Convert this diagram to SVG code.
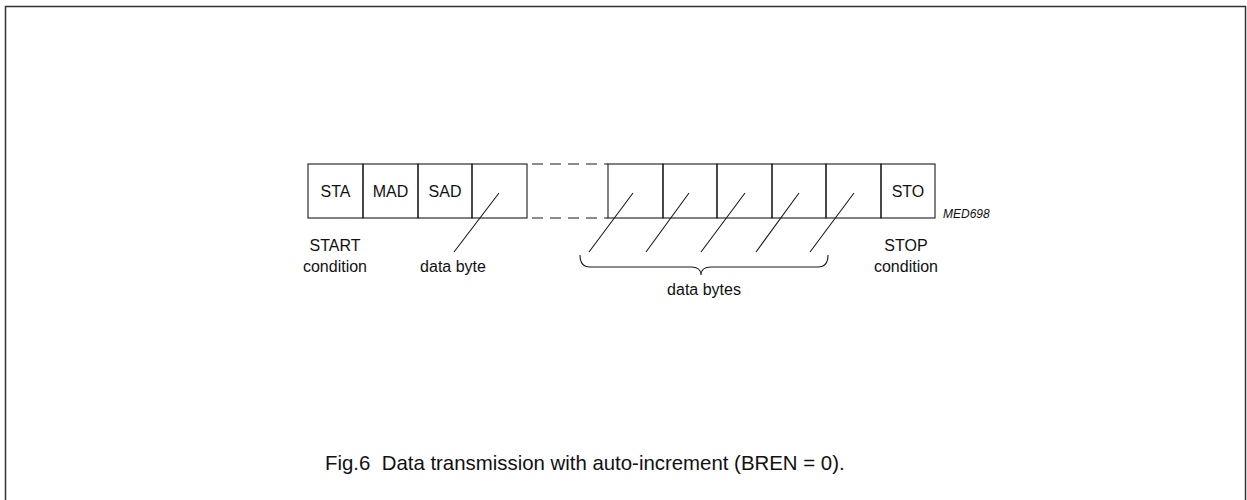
<svg xmlns="http://www.w3.org/2000/svg" width="1247" height="500" viewBox="0 0 1247 500">
<style>
.ln{fill:none;stroke:#1a1a1a;stroke-width:1.1}
.t{font-family:"Liberation Sans",Arial,sans-serif;font-size:16px;fill:#111;text-anchor:middle}
.cap{font-family:"Liberation Sans",Arial,sans-serif;font-size:20.4px;fill:#111;white-space:pre}
.code{font-family:"Liberation Sans",Arial,sans-serif;font-size:12px;font-style:italic;fill:#111}
</style>
<rect x="5.5" y="6.5" width="1240" height="520" fill="#fff" stroke="#333" stroke-width="1.5"/>
<g id="frame-boxes">
<g id="sta"><rect class="ln" x="308" y="164" width="55" height="54"/><text class="t" x="335.5" y="197">STA</text></g>
<g id="mad"><rect class="ln" x="363" y="164" width="55" height="54"/><text class="t" x="390.5" y="197">MAD</text></g>
<g id="sad"><rect class="ln" x="418" y="164" width="54" height="54"/><text class="t" x="445" y="197">SAD</text></g>
<g id="byte1"><rect class="ln" x="472" y="164" width="55" height="54"/></g>
<g id="gap"><path class="ln" d="M532,164H608M532,218H608" stroke-dasharray="11 7"/></g>
<g id="byte2"><rect class="ln" x="608" y="164" width="55" height="54"/></g>
<g id="byte3"><rect class="ln" x="663" y="164" width="54" height="54"/></g>
<g id="byte4"><rect class="ln" x="717" y="164" width="55" height="54"/></g>
<g id="byte5"><rect class="ln" x="772" y="164" width="54" height="54"/></g>
<g id="byte6"><rect class="ln" x="826" y="164" width="55" height="54"/></g>
<g id="sto"><rect class="ln" x="881" y="164" width="54" height="54"/><text class="t" x="908" y="197">STO</text></g>
</g>
<g id="connectors">
<path class="ln" d="M499,193L454,252M633,193L589,252M689,193L646,252M745,193L701,252M799,193L756,252M854,193L810,252"/>
<path class="ln" d="M580,255Q580,267 590,267L691,267Q701,267 701,275Q701,267 711,267L818,267Q828,267 828,255"/>
</g>
<g id="labels">
<text class="t" x="335" y="251">START</text>
<text class="t" x="335" y="272">condition</text>
<text class="t" x="453" y="272">data byte</text>
<text class="t" x="704" y="295">data bytes</text>
<text class="t" x="906" y="251">STOP</text>
<text class="t" x="906" y="272">condition</text>
<text class="code" x="943" y="218">MED698</text>
<text class="cap" x="325" y="470">Fig.6&#160; Data transmission with auto-increment (BREN = 0).</text>
</g>
</svg>
